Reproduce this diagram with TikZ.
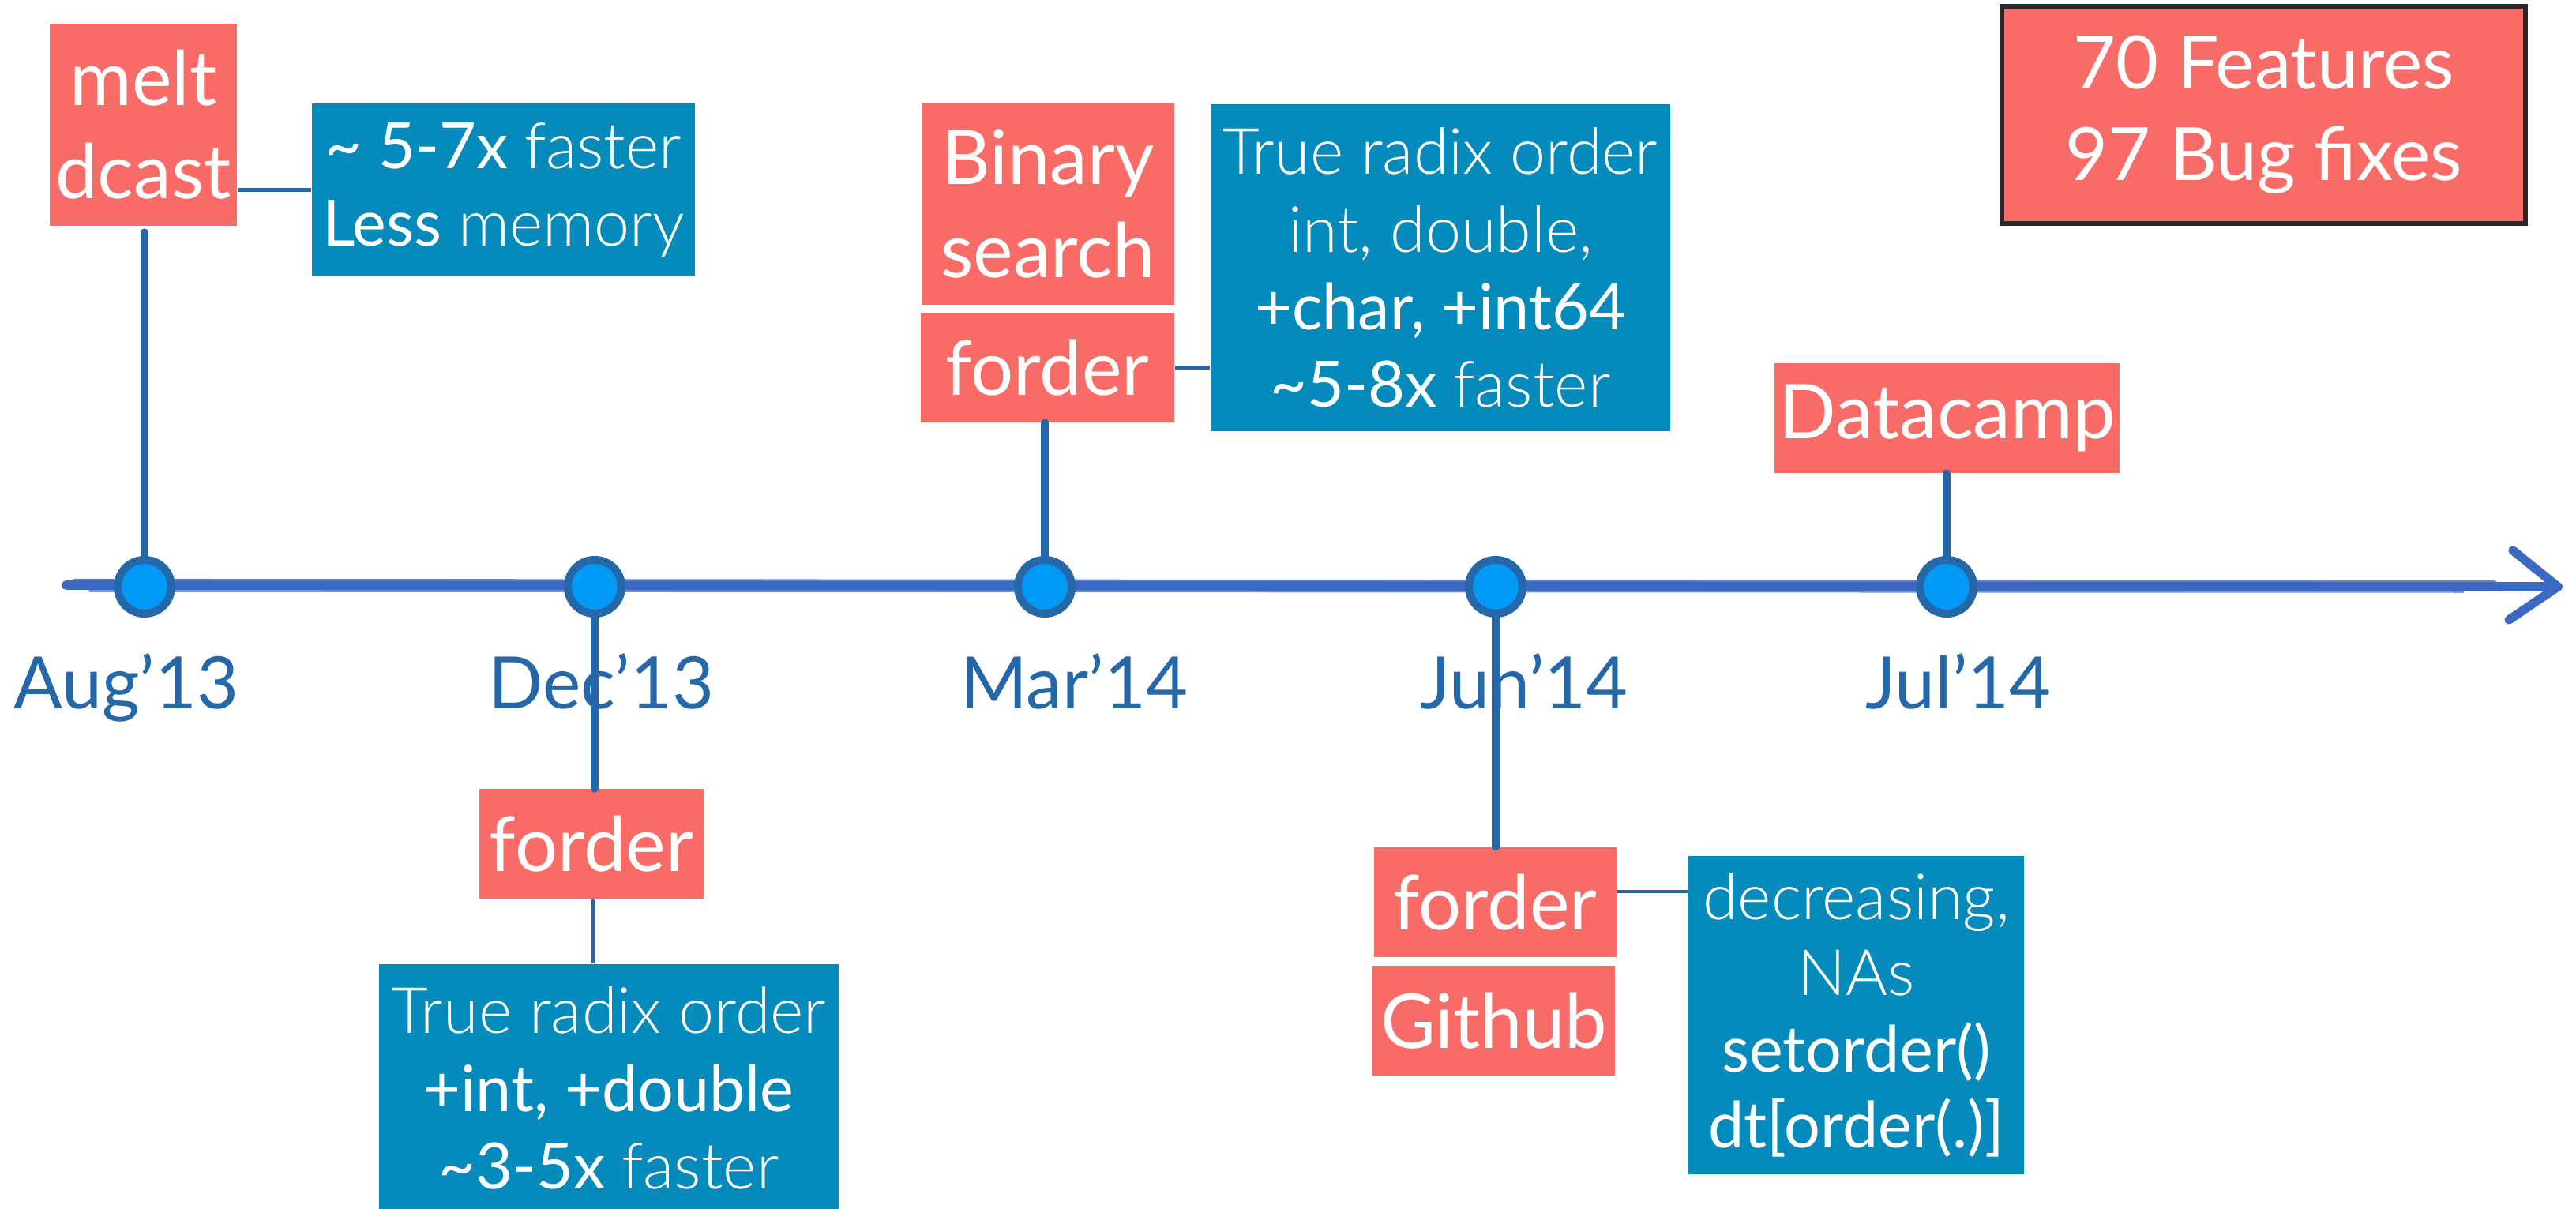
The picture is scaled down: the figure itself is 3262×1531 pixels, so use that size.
\documentclass[tikz,border=0pt]{standalone}
\usepackage{fontspec}
\setmainfont{Lato}
\newfontfamily\lightf{Lato Light}
\usetikzlibrary{calc}
\definecolor{redbox}{RGB}{249,107,102}
\definecolor{bluebox}{RGB}{5,139,187}
\definecolor{tline}{RGB}{58,104,194}
\definecolor{dblue}{RGB}{36,104,170}
\definecolor{dotfill}{RGB}{0,153,245}
\definecolor{frame}{RGB}{40,40,40}
\begin{document}
\begin{tikzpicture}[x=0.01cm,y=-0.01cm,
  redn/.style={fill=redbox, text=white, inner sep=0pt, align=center, font=\fontsize{27.2}{33.6}\selectfont},
  bluen/.style={fill=bluebox, text=white, inner sep=0pt, align=center, font=\fontsize{23}{27.9}\selectfont},
  datelbl/.style={text=dblue, inner sep=0pt, anchor=base, font=\fontsize{26}{30}\selectfont},
  dot/.style={circle, draw=dblue, fill=dotfill, line width=2.85pt, minimum size=0.68cm, inner sep=0pt},
  stem/.style={draw=dblue, line width=3.1pt, line cap=round},
  link/.style={draw=dblue, line width=1.4pt},
  tl/.style={draw=tline, line cap=round},
]
\useasboundingbox (0,0) rectangle (3262,1531);
\clip (0,0) rectangle (3262,1531);

% timeline
\coordinate (t0) at (84,741);
\coordinate (t1) at (3239,743);
\draw[tl, line width=3.3pt] (t0) -- (t1);
\draw[tl, line width=1.2pt, opacity=.8] ($(t0)+(10,-6)$) -- ($(t1)+(-80,-6)$);
\draw[tl, line width=1.0pt, opacity=.7] ($(t0)+(30,7)$) -- ($(t1)+(-120,6)$);
\draw[tl, line width=3.2pt, line join=round] ($(t1)+(-57,-46)$) -- (t1) -- ($(t1)+(-62,42)$);

% summary box
\node[redn, draw=frame, line width=1.6pt, minimum width=6.63cm, minimum height=2.75cm,
      font=\fontsize{26.5}{33}\selectfont] (sum) at (2866.5,145.5) {70 Features\\97 Bug fixes};

% Aug'13
\node[redn, minimum width=2.37cm, minimum height=2.56cm] (melt) at (181.5,158) {melt\\dcast};
\node[bluen, minimum width=4.85cm, minimum height=2.19cm] (b1) at (637.5,240.5)
  {\textasciitilde{} 5-7x {\lightf faster}\\Less {\lightf memory}};

% Dec'13
\node[redn, minimum width=2.84cm, minimum height=1.39cm] (f2) at (749,1068.5) {forder};
\node[bluen, minimum width=5.82cm, minimum height=3.14cm] (b2) at (771,1378)
  {{\lightf True radix order}\\+int, +double\\\textasciitilde3-5x {\lightf faster}};

% Mar'14
\node[redn, minimum width=3.2cm, minimum height=2.56cm] (bin) at (1327,258) {Binary\\search};
\node[redn, minimum width=3.21cm, minimum height=1.39cm] (f3) at (1326.5,465.5) {forder};
\node[bluen, minimum width=5.82cm, minimum height=4.14cm] (b3) at (1824,339)
  {{\lightf True radix order}\\{\lightf int, double,}\\+char, +int64\\\textasciitilde5-8x {\lightf faster}};

% Jun'14
\node[redn, minimum width=3.07cm, minimum height=1.39cm] (f4) at (1893.5,1142.5) {forder};
\node[redn, minimum width=3.07cm, minimum height=1.39cm] (gh) at (1891.5,1292.5) {Github};
\node[bluen, minimum width=4.25cm, minimum height=4.03cm, font=\fontsize{23}{27.3}\selectfont] (b4) at (2350.5,1285.5)
  {{\lightf decreasing,}\\{\lightf NAs}\\setorder()\\dt[order(.)]};

% Jul'14
\node[redn, minimum width=4.37cm, minimum height=1.39cm] (dc) at (2465.5,529.5) {Datacamp};

% date labels
\node[datelbl] (l1) at (160,898) {Aug’13};
\node[datelbl] (l2) at (761,898) {Dec’13};
\node[datelbl] (l3) at (1360,898) {Mar’14};
\node[datelbl] (l4) at (1930,898) {Jun’14};
\node[datelbl] (l5) at (2480,898) {Jul’14};

% dots
\node[dot] (c1) at (183,743) {};
\node[dot] (c2) at (753,743) {};
\node[dot] (c3) at (1323,743) {};
\node[dot] (c4) at (1894,743) {};
\node[dot] (c5) at (2465,743) {};

% stems
\draw[stem] ($(melt.south -| c1)+(0,8)$) -- (c1.north);
\draw[stem] (f3.south -| c3) -- (c3.north);
\draw[stem] (c2.south) -- (c2.south |- f2.north);
\draw[stem] (c4.south) -- (c4.south |- f4.north);
\draw[stem] (dc.south -| c5) -- (c5.north);

% links
\coordinate (j4) at (0,1129);
\draw[link] (melt.east |- b1.west) -- (b1.west);
\draw[link] (f3.east) -- (f3.east -| b3.west);
\draw[link] (f2.south -| 751,0) -- (b2.north -| 751,0);
\draw[link] (f4.east |- j4) -- (b4.west |- j4);
\end{tikzpicture}
\end{document}
